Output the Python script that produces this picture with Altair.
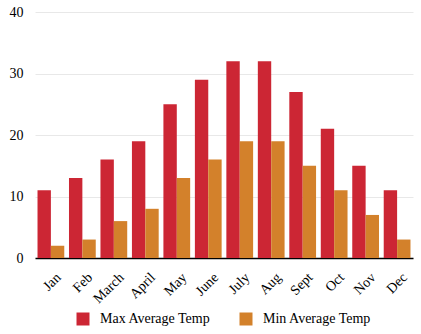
import altair as alt
import pandas as pd

months = ["Jan", "Feb", "March", "April", "May", "June", "July", "Aug", "Sept", "Oct", "Nov", "Dec"]
max_temp = [11, 13, 16, 19, 25, 29, 32, 32, 27, 21, 15, 11]
min_temp = [2, 3, 6, 8, 13, 16, 19, 19, 15, 11, 7, 3]
series = ["Max Average Temp", "Min Average Temp"]
colors = ["#cc2634", "#d3812b"]

rows = []
for m, a, b in zip(months, max_temp, min_temp):
    rows.append({"month": m, "series": series[0], "value": a})
    rows.append({"month": m, "series": series[1], "value": b})
df = pd.DataFrame(rows)

font = "Liberation Serif"

chart = alt.Chart(df).mark_bar().encode(
    x=alt.X("month:N", sort=months, title=None,
            scale=alt.Scale(paddingInner=0.15, paddingOuter=0.08),
            axis=alt.Axis(labelAngle=-45, labelFontSize=14, labelFont=font, labelColor="#000",
                          domainColor="#000", domainWidth=1.5, ticks=False, labelPadding=12,
                          labelOffset=3, grid=False)),
    xOffset=alt.XOffset("series:N", sort=series),
    y=alt.Y("value:Q", title=None,
            scale=alt.Scale(domain=[0, 40]),
            axis=alt.Axis(values=[0, 10, 20, 30, 40], labelFontSize=14, labelFont=font,
                          labelColor="#000", domain=False, ticks=False, labelPadding=12,
                          gridColor="#e8e8e8")),
    color=alt.Color("series:N", sort=series,
                    scale=alt.Scale(domain=series, range=colors),
                    legend=alt.Legend(title=None, orient="none", direction="horizontal",
                                      legendX=41, legendY=300, symbolType="square",
                                      symbolSize=169, symbolStrokeWidth=0, labelFont=font,
                                      labelFontSize=14, labelColor="#000", columnPadding=28,
                                      labelOffset=10)),
).properties(
    width=378, height=246,
    padding={"left": 35, "top": 12, "right": 8, "bottom": 76},
    autosize=alt.AutoSizeParams(type="none"),
).configure(font=font).configure_view(stroke=None)

chart.save("out.html", embed_options={"renderer": "svg", "actions": False})
